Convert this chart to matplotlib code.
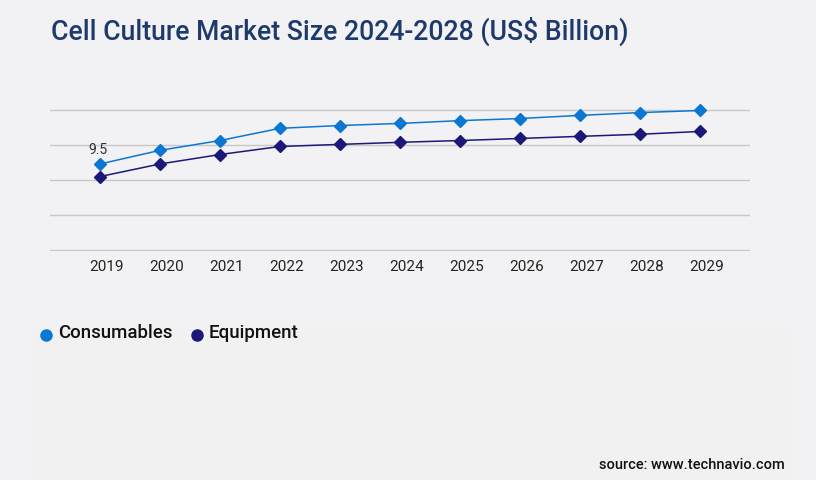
import matplotlib
matplotlib.use('Agg')
import matplotlib.pyplot as plt
import matplotlib.transforms as mtransforms
from matplotlib.patches import Rectangle

plt.rcParams['font.family'] = ['Roboto', 'DejaVu Sans']

# Data (y axis unlabeled)
years = [2019, 2020, 2021, 2022, 2023, 2024, 2025, 2026, 2027, 2028, 2029]
consumables = [9.47, 9.86, 10.14, 10.49, 10.57, 10.63, 10.71, 10.77, 10.86, 10.94, 11.0]
equipment = [9.11, 9.47, 9.74, 9.97, 10.03, 10.09, 10.14, 10.20, 10.26, 10.32, 10.40]
grid_values = [7, 8, 9, 10, 11]

bg = '#f2f2f4'
fig = plt.figure(figsize=(8.16, 4.8), dpi=100, facecolor=bg)

# faint lower panel
fig.patches.append(Rectangle((30 / 816, 0), 762 / 816, 1 - 329 / 480,
                             transform=fig.transFigure, facecolor='#f1f1f2',
                             edgecolor='none', zorder=0))

ax = fig.add_axes([50 / 816, 1 - 251 / 480, 700 / 816, 151 / 480])
ax.set_facecolor('none')

ax.plot(years, consumables, color='#0a78d2', lw=1.1, marker='D', ms=6.3,
        label='Consumables', clip_on=False, zorder=3)
ax.plot(years, equipment, color='#1b1878', lw=1.1, marker='D', ms=6.3,
        label='Equipment', clip_on=False, zorder=3)

ax.annotate('9.5', (years[0], consumables[0]), xytext=(-1.5, 7.2),
            textcoords='offset points', ha='center', va='baseline',
            fontsize=10, color='#333333')

ax.set_xlim(2018 + 10 / 60, 2029 + 50 / 60)
ax.set_ylim(6.98, 11.3)
ax.set_yticks(grid_values)
ax.set_xticks(years)
ax.set_xticklabels([str(y) for y in years])
ax.tick_params(axis='y', left=False, labelleft=False)
ax.tick_params(axis='x', bottom=False, labelsize=11, labelcolor='#222222', pad=3)
shift = mtransforms.ScaledTranslation(7 / 100, 0, fig.dpi_scale_trans)
for lbl in ax.get_xticklabels():
    lbl.set_transform(lbl.get_transform() + shift)
ax.grid(axis='y', color='#c8c8c8', lw=1)
for s in ax.spines.values():
    s.set_visible(False)

fig.text(51 / 816, 1 - 31 / 480, 'Cell Culture Market Size 2024-2028 (US$ Billion)',
         fontsize=19.2, fontweight='medium', color='#1d3a6b', va='center', ha='left')

# legend drawn manually
fig.lines.append(plt.Line2D([46 / 816], [1 - 335 / 480], transform=fig.transFigure,
                            marker='o', ms=8, color='#0a78d2', ls='none'))
fig.text(58 / 816, 1 - 333.5 / 480, 'Consumables', fontsize=13.4, fontweight='medium',
         color='#111111', va='center', ha='left')
fig.lines.append(plt.Line2D([197 / 816], [1 - 335 / 480], transform=fig.transFigure,
                            marker='o', ms=8, color='#1b1878', ls='none'))
fig.text(209 / 816, 1 - 333.5 / 480, 'Equipment', fontsize=13.4, fontweight='medium',
         color='#111111', va='center', ha='left')

fig.text(785 / 816, 1 - 465 / 480, 'source: www.technavio.com', fontsize=10.5,
         fontweight='medium', color='#111111', va='center', ha='right')

fig.savefig('out.png', dpi=100, facecolor=bg)
